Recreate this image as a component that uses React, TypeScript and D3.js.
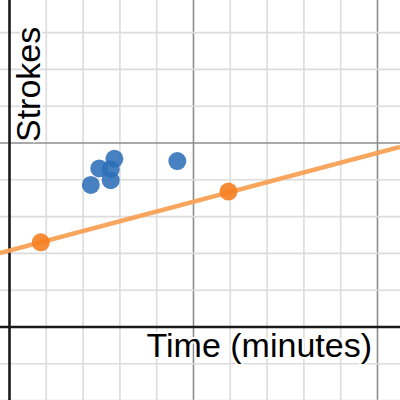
import React from "react";
import * as d3 from "d3";

const W = 400;
const H = 400;

// Data (units: minor grid = 1)
const blueX = [2.21, 2.44, 2.85, 2.75, 2.75, 4.56];
const blueY = [3.86, 4.31, 4.57, 4.29, 3.99, 4.51];
const orangeX = [0.85, 5.95];
const orangeY = [2.3, 3.68];
const lineIntercept = 2.08;
const lineSlope = 0.265;
const xTicks = d3.range(-1, 12, 1);
const yTicks = d3.range(-2, 10, 1);
const xLabel = "Time (minutes)";
const yLabel = "Strokes";

export default function App() {
  const unit = 36.8;
  const ox = 9.5;
  const oy = 327;
  const x = d3.scaleLinear().domain([-ox / unit, (W - ox) / unit]).range([0, W]);
  const y = d3.scaleLinear().domain([(oy - H) / unit, oy / unit]).range([H, 0]);
  const [x0, x1] = x.domain();
  const line = d3
    .line<number>()
    .x((d) => x(d))
    .y((d) => y(lineIntercept + lineSlope * d));
  const font = "Arial, 'Liberation Sans', Helvetica, sans-serif";
  return (
    <div style={{ position: "fixed", left: 0, top: 0, width: W, height: H }}>
      <svg width={W} height={H} style={{ display: "block", background: "#fff" }}>
        {xTicks.map((t) =>
          t === 0 ? null : (
            <line
              key={"vx" + t}
              x1={x(t)}
              x2={x(t)}
              y1={0}
              y2={H}
              stroke={t % 5 === 0 ? "#8c8c8c" : "#dcdcdc"}
              strokeWidth={1.6}
            />
          )
        )}
        {yTicks.map((t) =>
          t === 0 ? null : (
            <line
              key={"hy" + t}
              y1={y(t)}
              y2={y(t)}
              x1={0}
              x2={W}
              stroke={t % 5 === 0 ? "#8c8c8c" : "#dcdcdc"}
              strokeWidth={1.6}
            />
          )
        )}
        <line x1={x(0)} x2={x(0)} y1={0} y2={H} stroke="#1a1a1a" strokeWidth={2.6} />
        <line y1={y(0)} y2={y(0)} x1={0} x2={W} stroke="#1a1a1a" strokeWidth={2.6} />
        <path d={line([x0, x1]) || ""} fill="none" stroke="#f8a055" strokeWidth={4.5} strokeOpacity={0.95} />
        {orangeX.map((d, i) => (
          <circle key={"o" + i} cx={x(d)} cy={y(orangeY[i])} r={9} fill="#f57f20" fillOpacity={0.9} />
        ))}
        {blueX.map((d, i) => (
          <circle key={"b" + i} cx={x(d)} cy={y(blueY[i])} r={9} fill="#2d70b8" fillOpacity={0.88} />
        ))}
        <text
          x={372}
          y={357}
          textAnchor="end"
          fontFamily={font}
          fontSize={34}
          fill="#000"
          stroke="#fff"
          strokeWidth={4}
          paintOrder="stroke"
          strokeLinejoin="round"
        >
          {xLabel}
        </text>
        <text
          transform={`translate(40,142) rotate(-90)`}
          textAnchor="start"
          fontFamily={font}
          fontSize={34}
          fill="#000"
          stroke="#fff"
          strokeWidth={4}
          paintOrder="stroke"
          strokeLinejoin="round"
        >
          {yLabel}
        </text>
      </svg>
    </div>
  );
}
